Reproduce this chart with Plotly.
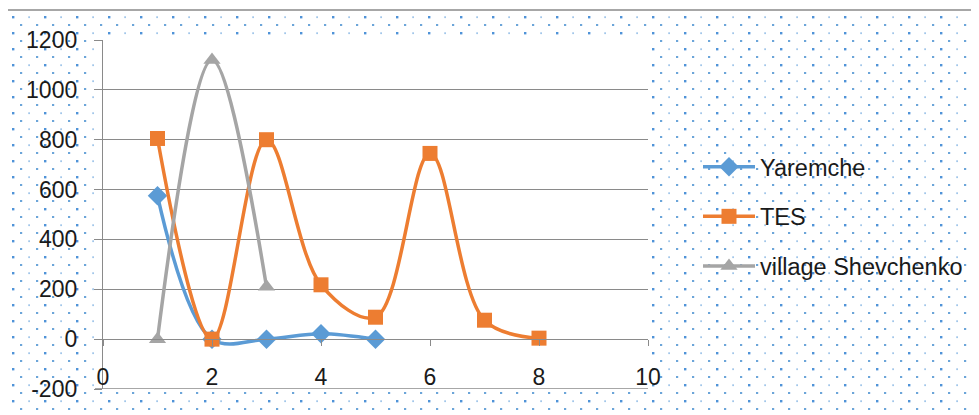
import base64
import plotly.graph_objects as go

# ---- data ----
yaremche_x = [1, 2, 3, 4, 5]
yaremche_y = [575, 0, 0, 22, 0]
tes_x = [1, 2, 3, 4, 5, 6, 7, 8]
tes_y = [805, 0, 800, 218, 88, 745, 76, 4]
shev_x = [1, 2, 3]
shev_y = [0, 1120, 210]
x_ticks = [0, 2, 4, 6, 8, 10]
y_ticks = [-200, 0, 200, 400, 600, 800, 1000, 1200]
y_tick_text = ["-200", "0", "200", "400", "600", "800", "1000", "1200"]

# ---- geometry (pixels, page coords; page body has an 8px margin) ----
OFF = 8
W, H = 979, 415
L, R, T, B = 103 - OFF, 648 - OFF, 40 - OFF, 389 - OFF
pw, ph = R - L, B - T


def px(x):
    return (x - OFF - L) / pw


def py(y):
    return (B - (y - OFF)) / ph


FONT = "Liberation Sans"
GRAY = "#8a8a8a"

# dotted pattern background as svg
cx0, cy0 = 7, 10
cw, ch = W - cx0 + OFF, H - cy0 + OFF
svg = (
    f'<svg xmlns="http://www.w3.org/2000/svg" width="{cw}" height="{ch}" '
    f'viewBox="0 0 {cw} {ch}" preserveAspectRatio="none">'
    '<defs><pattern id="p" x="0" y="0" width="32" height="16" patternUnits="userSpaceOnUse">'
    '<rect x="5" y="6" width="2.4" height="2.4" fill="#4f93d8"/>'
    '<rect x="21.3" y="6.3" width="1.6" height="1.8" fill="#6aa4de" fill-opacity="0.7"/>'
    '<rect x="13" y="14" width="2.2" height="2.2" fill="#5b9bd5" fill-opacity="0.9"/>'
    '<rect x="29" y="14" width="2.2" height="2.2" fill="#5b9bd5" fill-opacity="0.9"/>'
    '</pattern></defs>'
    f'<rect width="{cw}" height="{ch}" fill="white"/>'
    f'<rect width="{cw}" height="{ch}" fill="url(#p)"/></svg>'
)
src = "data:image/svg+xml;base64," + base64.b64encode(svg.encode()).decode()

fig = go.Figure()
fig.add_trace(go.Scatter(
    x=yaremche_x, y=yaremche_y, name="Yaremche", mode="lines+markers",
    line=dict(color="#5b9bd5", width=3.5, shape="spline"),
    marker=dict(symbol="diamond", size=15, color="#5b9bd5"),
    legendgroup="a",
))
fig.add_trace(go.Scatter(
    x=tes_x, y=tes_y, name="TES", mode="lines+markers",
    line=dict(color="#ed7d31", width=3.5, shape="spline"),
    marker=dict(symbol="square", size=15, color="#ed7d31"),
    legendgroup="b",
))
fig.add_trace(go.Scatter(
    x=shev_x, y=shev_y, name="village Shevchenko", mode="lines+markers",
    line=dict(color="#a5a5a5", width=3.5, shape="spline"),
    marker=dict(symbol="triangle-up", size=15, color="#a5a5a5"),
    legendgroup="c",
))

fig.update_layout(
    width=W, height=H,
    margin=dict(l=L, r=W - R, t=T, b=H - B),
    paper_bgcolor="white",
    plot_bgcolor="rgba(0,0,0,0)",
    font=dict(family=FONT, size=23, color="#1a1a1a"),
    showlegend=True,
    legend=dict(
        x=px(698), y=py(145), xanchor="left", yanchor="top",
        bgcolor="rgba(0,0,0,0)", borderwidth=0,
        font=dict(family=FONT, size=23.5, color="#1a1a1a"),
        tracegroupgap=16, itemwidth=52,
    ),
    images=[dict(
        source=src, xref="paper", yref="paper",
        x=px(cx0), y=py(cy0), sizex=cw / pw, sizey=ch / ph,
        xanchor="left", yanchor="top", sizing="stretch", layer="below",
    )],
    shapes=[
        dict(type="rect", xref="paper", yref="paper", layer="below",
             x0=px(95), x1=px(648), y0=py(389), y1=py(37),
             fillcolor="white", line=dict(width=0)),
        dict(type="line", xref="paper", yref="y", layer="below",
             x0=px(95), x1=1, y0=y_ticks[0], y1=y_ticks[0],
             line=dict(color=GRAY, width=1.3)),
        dict(type="line", xref="paper", yref="paper", layer="above",
             x0=px(7), x1=px(7), y0=py(10), y1=py(430),
             line=dict(color=GRAY, width=1.5)),
        dict(type="line", xref="paper", yref="paper", layer="above",
             x0=px(7), x1=px(995), y0=py(10), y1=py(10),
             line=dict(color=GRAY, width=1.5)),
    ],
    xaxis=dict(
        range=[0, 10], tickvals=x_ticks, showgrid=False, zeroline=False,
        showline=True, linecolor=GRAY, linewidth=1.3,
        ticks="outside", ticklen=6, tickcolor=GRAY, tickwidth=1.3,
        anchor="free", position=(389 - 339) / ph,
        tickfont=dict(size=23), ticklabelstandoff=11,
    ),
    yaxis=dict(
        range=[-200, 1200], tickvals=y_ticks, ticktext=y_tick_text,
        showgrid=True, gridcolor=GRAY, gridwidth=1.3, zeroline=False,
        showline=True, linecolor=GRAY, linewidth=1.3,
        ticks="outside", ticklen=8, tickcolor=GRAY, tickwidth=1.3,
        tickfont=dict(size=23), ticklabelstandoff=12,
    ),
)

fig.write_html("out.html")
